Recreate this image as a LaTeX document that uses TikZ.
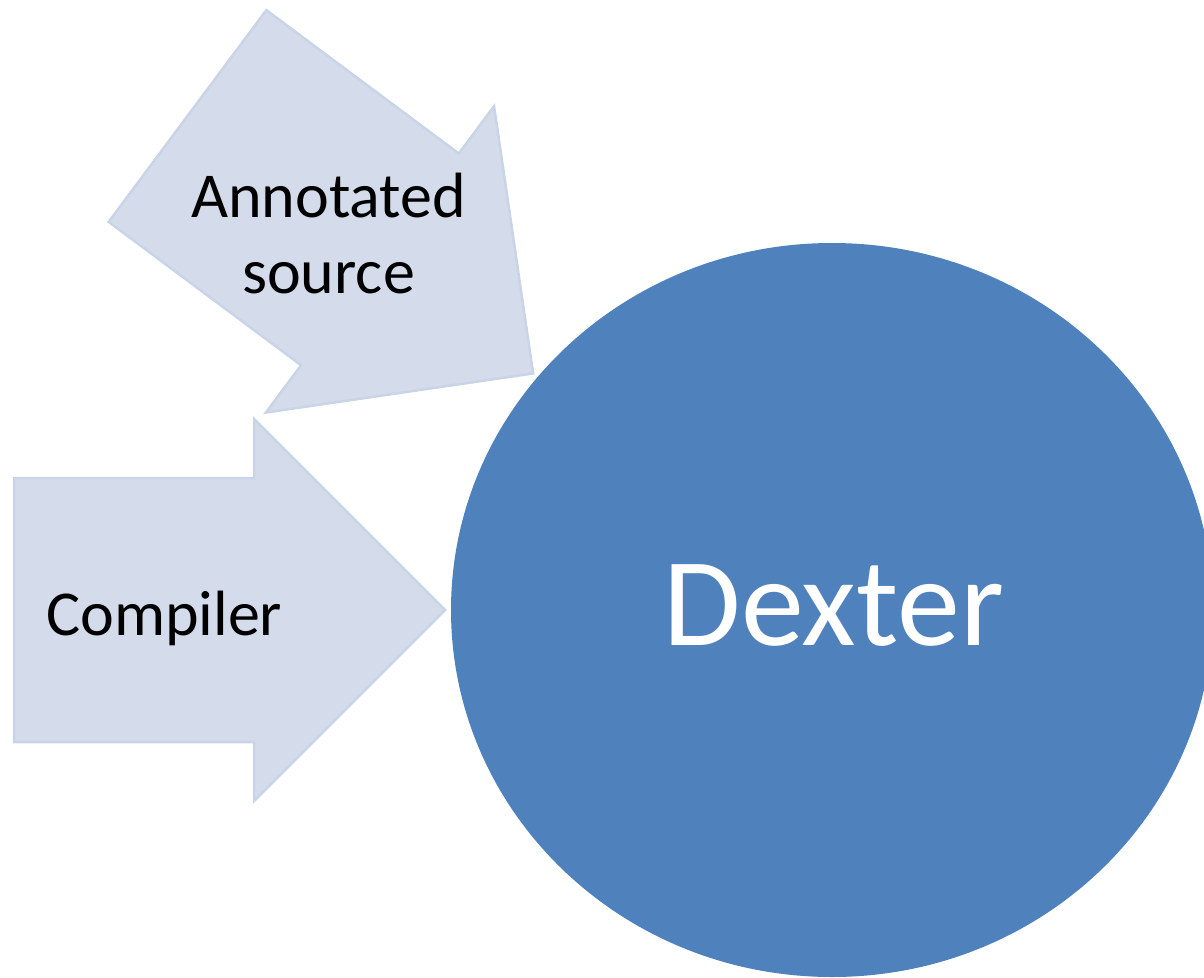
\documentclass[tikz,border=0pt]{standalone}
\usepackage{fontspec}
\setmainfont{Carlito}
\usetikzlibrary{shapes.geometric}
\definecolor{arrowfill}{HTML}{D4DCEB}
\definecolor{arrowline}{HTML}{CAD4E7}
\definecolor{dexterblue}{HTML}{4F81BD}
\tikzset{
  blockarrow/.style={fill=arrowfill, draw=arrowline, line width=2.5pt, line join=miter},
  arrowlabel/.style={font=\fontsize{64}{76}\selectfont, text=black, align=center, inner sep=0pt},
  bigbubble/.style={ellipse, fill=dexterblue, draw=none, inner sep=0pt, minimum width=762pt, minimum height=734pt},
  bubblelabel/.style={font=\fontsize{126}{150}\selectfont, text=white, inner sep=0pt}
}
\newcommand{\arrowpath}{(0,-132) -- (240,-132) -- (240,-191) -- (431,0) -- (240,191) -- (240,132) -- (0,132) -- cycle}
\begin{document}
\begin{tikzpicture}[x=1pt, y=-1pt]
\useasboundingbox (0,0) rectangle (1204,977);
\clip (0,0) rectangle (1204,977);
% Annotated source arrow (rotated)
\begin{scope}[shift={(187.5,116)}, rotate=-36.68]
  \draw[blockarrow] \arrowpath;
\end{scope}
% Compiler arrow
\begin{scope}[shift={(14,610)}]
  \draw[blockarrow] \arrowpath;
\end{scope}
\node[arrowlabel, anchor=base] (annot) at (328.5,293) {Annotated\\source};
\node[arrowlabel, anchor=base west] (comp) at (46,635) {Compiler};
% Dexter bubble
\node[bigbubble] (dexter) at (832,610) {};
\node[bubblelabel, anchor=base] (dexterlabel) at (834,645) {Dexter};
\end{tikzpicture}
\end{document}
